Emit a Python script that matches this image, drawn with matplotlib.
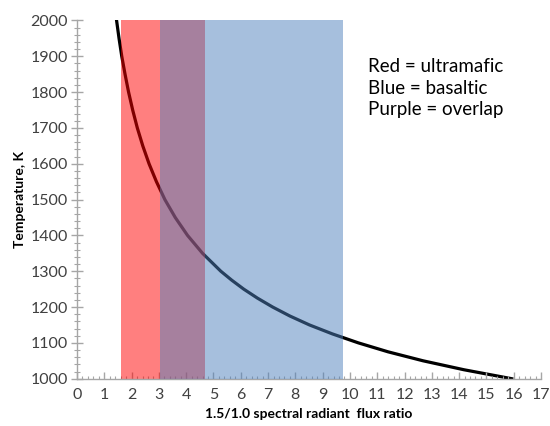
import numpy as np
import matplotlib.pyplot as plt
from matplotlib.ticker import MultipleLocator

# values
temperature_k = [2000, 1950, 1900, 1850, 1800, 1750, 1700, 1650, 1600, 1550, 1500,
                 1450, 1400, 1350, 1300, 1275, 1250, 1225, 1200, 1175, 1150,
                 1125, 1100, 1075, 1050, 1025, 1000]
flux_ratio = [1.45, 1.54, 1.64, 1.76, 1.89, 2.04, 2.21, 2.41, 2.64, 2.91, 3.22,
              3.60, 4.05, 4.60, 5.27, 5.67, 6.11, 6.61, 7.17, 7.80, 8.52,
              9.36, 10.31, 11.40, 12.68, 14.18, 15.93]

ultramafic_range = (1.61, 4.68)
basaltic_range = (3.04, 9.73)
legend_lines = ['Red = ultramafic', 'Blue = basaltic', 'Purple = overlap']

plt.rcParams['font.family'] = ['Lato', 'DejaVu Sans']

fig = plt.figure(figsize=(5.5, 4.26), dpi=100)
ax = fig.add_axes([0.14, 0.111, 0.8436, 0.841])

ax.plot(flux_ratio, temperature_k, color='black', linewidth=2.3, zorder=1)
ax.axvspan(*ultramafic_range, color='#FF0000', alpha=0.5, lw=0, zorder=2)
ax.axvspan(*basaltic_range, color='#4F81BD', alpha=0.5, lw=0, zorder=3)

ax.set_xlim(0, 17)
ax.set_ylim(1000, 2000)
ax.xaxis.set_major_locator(MultipleLocator(1))
ax.xaxis.set_minor_locator(MultipleLocator(0.2))
ax.yaxis.set_major_locator(MultipleLocator(100))
ax.yaxis.set_minor_locator(MultipleLocator(20))

for s in ['top', 'right']:
    ax.spines[s].set_visible(False)
for s in ['left', 'bottom']:
    ax.spines[s].set_color('#A6A6A6')
    ax.spines[s].set_linewidth(1.0)

ax.tick_params(axis='y', which='major', direction='inout', length=9, width=1,
               color='#A6A6A6', labelsize=11.5, labelcolor='#404040', pad=2)
ax.tick_params(axis='y', which='minor', direction='inout', length=5, width=0.8,
               color='#A6A6A6')
ax.tick_params(axis='x', which='major', direction='in', length=5, width=1,
               color='#A6A6A6', labelsize=11.5, labelcolor='#404040', pad=7)
ax.tick_params(axis='x', which='minor', direction='in', length=2.5, width=0.8,
               color='#A6A6A6')

ax.set_ylabel('Temperature, K', fontsize=10, fontweight='bold', labelpad=3)
ax.set_xlabel('1.5/1.0 spectral radiant  flux ratio', fontsize=10,
              fontweight='bold', labelpad=4)

ax.text(0.627, 0.895, '\n'.join(legend_lines), transform=ax.transAxes,
        fontsize=13.5, color='black', va='top', ha='left', linespacing=1.33)

fig.savefig('out.png', dpi=100)
